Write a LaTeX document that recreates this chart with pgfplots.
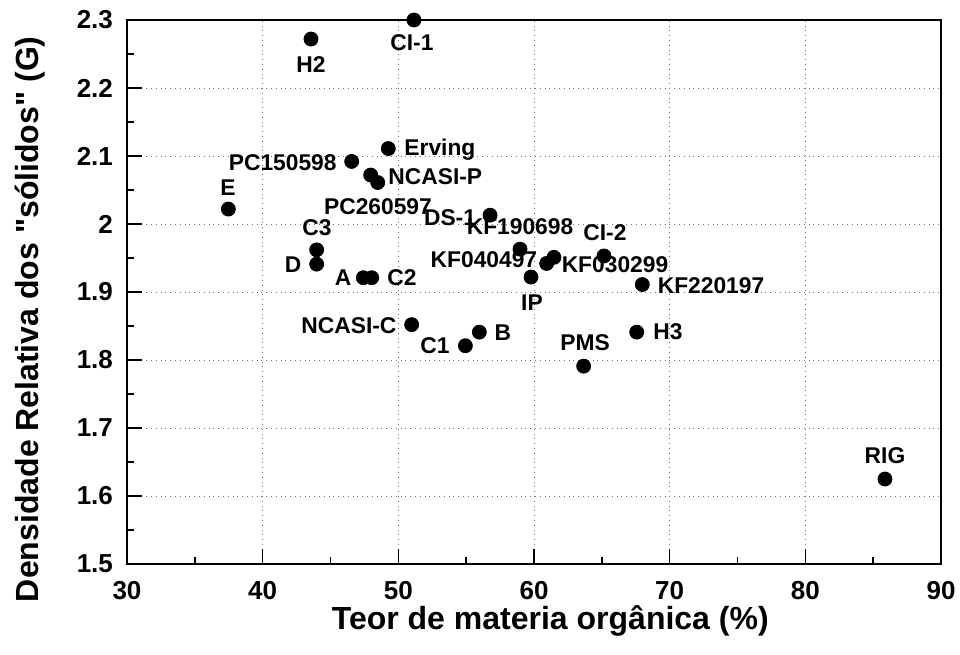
\documentclass[border=0pt]{standalone}
\usepackage{fontspec}
\setmainfont{Liberation Sans}[Ligatures=TeXOff]
\usepackage{pgfplots}
\pgfplotsset{compat=1.18}
\usetikzlibrary{calc}

\begin{document}
\begin{tikzpicture}
\begin{axis}[
  name=ax,
  scale only axis,
  width=407pt, height=272pt,
  xmin=30, xmax=90, ymin=1.5, ymax=2.3,
  xtick={30,40,...,90},
  ytick={1.5,1.6,...,2.3},
  minor xtick={35,45,...,85},
  minor ytick={1.55,1.65,...,2.25},
  yticklabel style={/pgf/number format/fixed, /pgf/number format/precision=1, xshift=-3.5pt},
  xticklabel style={yshift=-5pt},
  /pgf/number format/assume math mode=true,
  ticklabel style={font=\fontsize{13}{15}\selectfont\bfseries},
  xtick pos=bottom, ytick pos=left,
  tick align=inside,
  major tick length=7.5pt, minor tick length=3.5pt,
  tick style={black, line width=0.8pt},
  grid=major,
  major grid style={dotted, gray!90!black, line width=0.5pt},
  axis line style={line width=1pt},
  xlabel={Teor de materia orgânica (\%)},
  ylabel={Densidade Relativa dos "sólidos" (G)},
  label style={font=\fontsize{16}{19}\selectfont\bfseries},
  xlabel style={at={(axis description cs:0.52,-0.105)}, anchor=center},
  ylabel style={at={(axis description cs:-0.119,0.45)}, anchor=center},
  clip=false,
]
% pontos (teor MO %, G)
\addplot[only marks, mark=*, mark size=3.5pt, black] coordinates {
  (51.15,2.300) (43.56,2.272) (49.26,2.111) (46.56,2.092)
  (47.96,2.072) (48.48,2.061) (37.47,2.022) (56.76,2.013)
  (43.98,1.962) (43.98,1.941) (47.42,1.921) (48.04,1.921)
  (58.97,1.963) (60.93,1.942) (61.47,1.951) (59.78,1.922)
  (65.16,1.953) (67.98,1.911) (50.98,1.852) (55.97,1.841)
  (54.94,1.821) (63.66,1.791) (67.57,1.841) (85.87,1.625)
};
\begin{scope}[every node/.style={font=\fontsize{11.4}{13}\selectfont\bfseries, inner sep=0pt}]
\node at (axis cs:51.0,2.266) {CI-1};
\node at (axis cs:43.56,2.235) {H2};
\node[anchor=west] at (axis cs:50.42,2.110) {Erving};
\node[anchor=east] at (axis cs:45.48,2.090) {PC150598};
\node[anchor=west] at (axis cs:49.24,2.069) {NCASI-P};
\node at (axis cs:48.5,2.025) {PC260597};
\node at (axis cs:37.44,2.054) {E};
\node at (axis cs:53.81,2.010) {DS-1};
\node at (axis cs:44.0,1.994) {C3};
\node at (axis cs:42.24,1.940) {D};
\node at (axis cs:45.92,1.921) {A};
\node at (axis cs:50.27,1.921) {C2};
\node at (axis cs:58.97,1.996) {KF190698};
\node at (axis cs:56.31,1.947) {KF040497};
\node at (axis cs:65.97,1.940) {KF030299};
\node at (axis cs:65.23,1.987) {CI-2};
\node at (axis cs:59.85,1.884) {IP};
\node at (axis cs:73.05,1.910) {KF220197};
\node at (axis cs:46.36,1.851) {NCASI-C};
\node at (axis cs:57.71,1.840) {B};
\node at (axis cs:52.70,1.821) {C1};
\node at (axis cs:63.76,1.825) {PMS};
\node at (axis cs:69.88,1.841) {H3};
\node at (axis cs:85.87,1.659) {RIG};
\end{scope}
\end{axis}
\pgfresetboundingbox
\path[use as bounding box] ($(ax.south west)+(-63.5pt,-45pt)$) rectangle ($(ax.north east)+(9.5pt,10pt)$);
\end{tikzpicture}
\end{document}
